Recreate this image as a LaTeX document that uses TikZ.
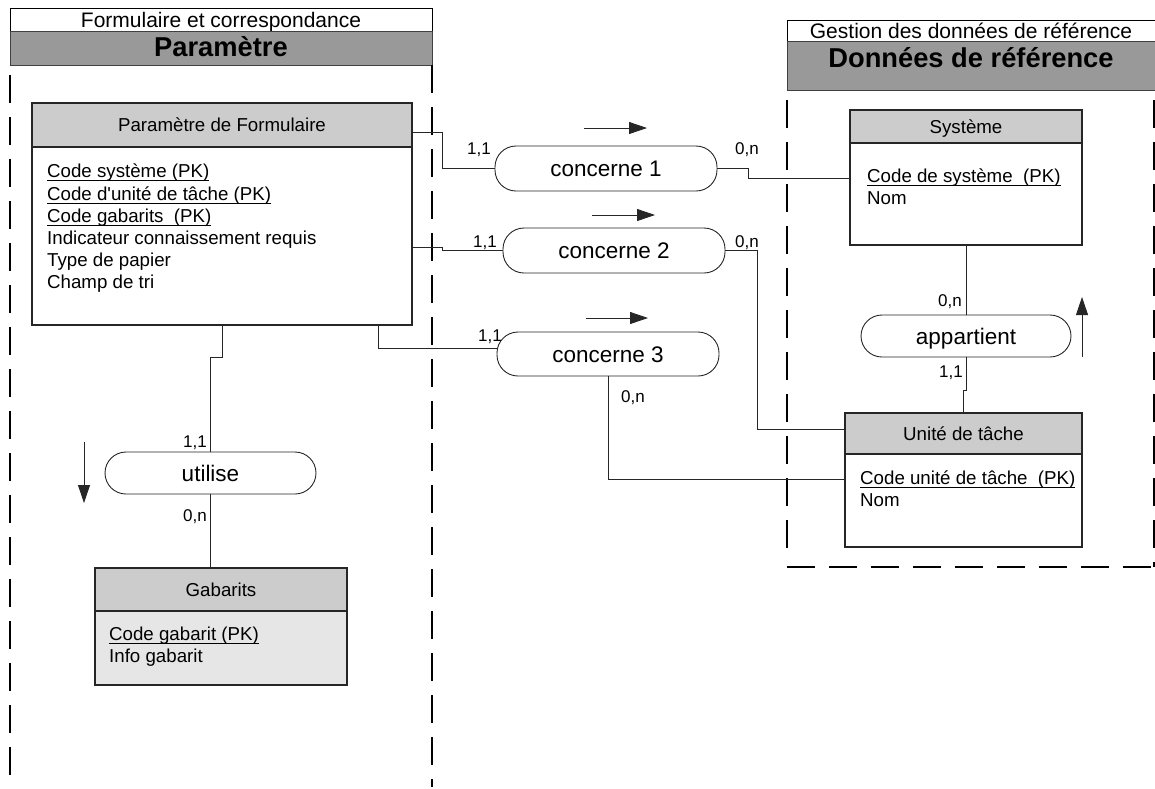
\documentclass[tikz,border=0pt]{standalone}
\usepackage{fontspec}
\setmainfont{Liberation Sans}
\usetikzlibrary{arrows.meta}
\definecolor{pkggrey}{HTML}{999999}
\definecolor{hdrgrey}{HTML}{CCCCCC}
\definecolor{bodygrey}{HTML}{E6E6E6}
\newcommand{\keyattr}[1]{\setbox0\hbox{#1}\rlap{\rule[-3.2pt]{\wd0}{0.9pt}}\box0}
\begin{document}
\begin{tikzpicture}[x=1pt,y=-1pt,
  pkgtop/.style={draw=black, line width=0.8pt, fill=white, inner sep=0pt, text height=15pt, text depth=0pt, font=\fontsize{21}{24}\selectfont},
  pkgbar/.style={draw=black!75, line width=0.8pt, fill=pkggrey, inner sep=0pt},
  pkgtitle/.style={inner sep=0pt, text height=19.5pt, text depth=0pt, font=\bfseries\fontsize{27.3}{30}\selectfont},
  ent/.style={draw=black!85, line width=1.1pt, inner sep=0pt},
  enthdr/.style={ent, fill=hdrgrey, text height=13.4pt, text depth=0pt, font=\fontsize{18.7}{22}\selectfont},
  entbody/.style={ent, fill=white},
  attr/.style={anchor=west, inner sep=0pt, text height=13pt, text depth=4pt, font=\fontsize{18.7}{22}\selectfont},
  rel/.style={draw=black!85, line width=0.9pt, rounded corners=21pt, fill=white, minimum width=222pt, minimum height=45pt, inner sep=0pt, text height=16pt, text depth=0pt, font=\fontsize{22.5}{26}\selectfont},
  card/.style={inner sep=0pt, text height=12.2pt, text depth=0pt, font=\fontsize{17}{20}\selectfont},
  link/.style={draw=black!85, line width=0.8pt},
  fence/.style={draw=black, line width=1.3pt, dash pattern=on 28pt off 14pt},
  dirarrow/.style={draw=black!85, line width=0.8pt, -{Triangle[length=18pt,width=12pt]}},
]
\useasboundingbox (0,0) rectangle (1155,788);

% ---------- packages ----------
\node[pkgtop, minimum width=422pt, minimum height=23pt] (lpt) at (221,19.5) {Formulaire et correspondance};
\node[pkgbar, minimum width=422pt, minimum height=34pt] (lpb) at (221,48) {};
\node[pkgtitle] (lptitle) at (221,46.5) {Paramètre};
\draw[fence] (10,75) -- (10,777);
\draw[fence] (432,65) -- (432,787);

\node[pkgtop, minimum width=368pt, minimum height=21pt] (rpt) at (971,30.5) {Gestion des données de référence};
\node[pkgbar, minimum width=368pt, minimum height=49pt] (rpb) at (971,65.5) {};
\node[pkgtitle] (rptitle) at (971,58) {Données de référence};
\draw[fence] (787,100) -- (787,555);
\draw[fence] (787,567) -- (1155,567);
\draw[fence] (1154,100) -- (1154,567);

% ---------- entities ----------
\node[enthdr, minimum width=380pt, minimum height=44pt] (pfh) at (222,125) {Paramètre de Formulaire};
\node[entbody, minimum width=380pt, minimum height=178pt] (pfb) at (222,236) {};
\node[attr] (pfa1) at (47,173) {\keyattr{Code système (PK)}};
\node[attr] (pfa2) at (47,196) {\keyattr{Code d\textquotesingle unité de tâche (PK)}};
\node[attr] (pfa3) at (47,218) {\keyattr{Code gabarits~ (PK)}};
\node[attr] (pfa4) at (47,240) {Indicateur connaissement requis};
\node[attr] (pfa5) at (47,262) {Type de papier};
\node[attr] (pfa6) at (47,284) {Champ de tri};

\node[enthdr, minimum width=232pt, minimum height=33pt] (sysh) at (966,126.5) {Système};
\node[entbody, minimum width=232pt, minimum height=102pt] (sysb) at (966,194) {};
\node[attr] (sysa1) at (867,178) {\keyattr{Code de système~ (PK)}};
\node[attr] (sysa2) at (867,200) {Nom};

\node[enthdr, minimum width=237pt, minimum height=41pt] (uth) at (963.5,433.5) {Unité de tâche};
\node[entbody, minimum width=237pt, minimum height=93pt] (utb) at (963.5,500.5) {};
\node[attr] (uta1) at (860,480) {\keyattr{Code unité de tâche~ (PK)}};
\node[attr] (uta2) at (860,502) {Nom};

\node[enthdr, minimum width=252pt, minimum height=43pt] (gbh) at (221,589.5) {Gabarits};
\node[ent, fill=bodygrey, minimum width=252pt, minimum height=74pt] (gbb) at (221,648) {};
\node[attr] (gba1) at (109,636) {\keyattr{Code gabarit (PK)}};
\node[attr] (gba2) at (109,658) {Info gabarit};

% ---------- relations ----------
\node[rel] (c1) at (606,168.5) {concerne 1};
\node[rel] (c2) at (614,250.5) {concerne 2};
\node[rel, minimum height=44pt] (c3) at (608,354) {concerne 3};
\node[rel, minimum width=210pt, minimum height=42pt] (ap) at (966,336) {appartient};
\node[rel, minimum width=211pt, minimum height=42pt] (ut) at (210.5,473) {utilise};

% ---------- connectors ----------
\draw[link] ([yshift=-7pt]pfh.east) -- ++(30,0) |- (c1.west);
\draw[link] (c1.east) -- ++(31,0) |- ([yshift=16pt]sysb.west);
\draw[link] ([yshift=-11pt]pfb.east) -- ++(30,0) |- (c2.west);
\draw[link] (c2.east) -- ++(32,0) |- ([yshift=4.5pt]uth.west);
\draw[link] ([xshift=156pt]pfb.south) |- ([yshift=6pt]c3.west);
\draw[link] (c3.south) |- ([yshift=21.5pt]utb.west);
\draw[link] (pfb.south) -- ++(0,32) -| (ut.north);
\draw[link] (ut.south) -- (ut.south |- gbh.north);
\draw[link] (sysb.south) -- (ap.north);
\draw[link] (ap.south) -- ++(0,33) -| (uth.north);

% ---------- cardinalities ----------
\node[card] (k1a) at (479,148) {1,1};
\node[card] (k1b) at (747,148) {0,n};
\node[card] (k2a) at (485,241) {1,1};
\node[card] (k2b) at (747,241) {0,n};
\node[card] (k3a) at (490,335) {1,1};
\node[card] (k3b) at (633,396) {0,n};
\node[card] (kapa) at (950,300) {0,n};
\node[card] (kapb) at (951,371) {1,1};
\node[card] (kuta) at (195,441) {1,1};
\node[card] (kutb) at (195,515) {0,n};

% ---------- reading arrows ----------
\draw[dirarrow] (584,128) -- (647,128);
\draw[dirarrow] (592,215) -- (655,215);
\draw[dirarrow] (586,318) -- (648,318);
\draw[dirarrow] (1082,357) -- (1082,297);
\draw[dirarrow] (84,442) -- (84,503);
\end{tikzpicture}
\end{document}
